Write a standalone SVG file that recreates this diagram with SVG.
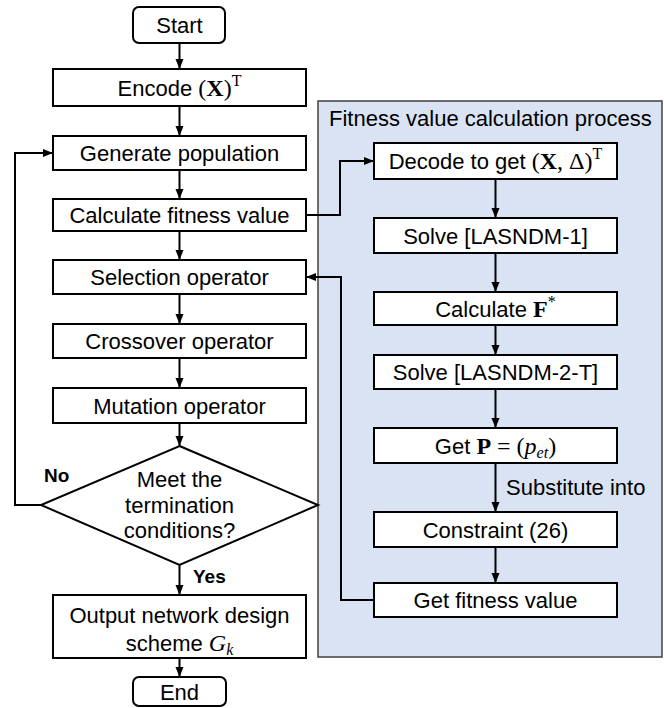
<svg xmlns="http://www.w3.org/2000/svg" width="664" height="708" viewBox="0 0 664 708">
<defs>
<marker id="arr" markerUnits="userSpaceOnUse" markerWidth="10" markerHeight="10" viewBox="0 0 10 10" refX="10" refY="5" orient="auto">
<path d="M0,1 L10,5 L0,9 Z" fill="#000"/>
</marker>
<style>
.box{fill:#fff;stroke:#000;stroke-width:2}
.t{font-family:"Liberation Sans",Arial,sans-serif;font-size:22px;fill:#000;text-anchor:middle}
.lbl{font-family:"Liberation Sans",Arial,sans-serif;font-size:22px;fill:#000}
.b{font-family:"Liberation Sans",Arial,sans-serif;font-size:19px;font-weight:bold;fill:#000}
.m{font-family:"Liberation Serif","Times New Roman",serif}
.mb{font-family:"Liberation Serif","Times New Roman",serif;font-weight:bold}
.mi{font-family:"Liberation Serif","Times New Roman",serif;font-style:italic}
.c{fill:none;stroke:#000;stroke-width:2}
</style>
</defs>
<g id="panel">
<rect x="318" y="101" width="344" height="556" fill="#dae3f3" stroke="#404040" stroke-width="1.5"/>
<text class="lbl" x="329" y="126">Fitness value calculation process</text>
</g>
<g id="connectors">
<line class="c" x1="179.5" y1="43" x2="179.5" y2="69" marker-end="url(#arr)"/>
<line class="c" x1="179.5" y1="106" x2="179.5" y2="136" marker-end="url(#arr)"/>
<line class="c" x1="179.5" y1="170" x2="179.5" y2="199" marker-end="url(#arr)"/>
<line class="c" x1="179.5" y1="231" x2="179.5" y2="260" marker-end="url(#arr)"/>
<line class="c" x1="179.5" y1="294" x2="179.5" y2="324" marker-end="url(#arr)"/>
<line class="c" x1="179.5" y1="358" x2="179.5" y2="388" marker-end="url(#arr)"/>
<line class="c" x1="179.5" y1="423" x2="179.5" y2="446" marker-end="url(#arr)"/>
<line class="c" x1="179.5" y1="565" x2="179.5" y2="595" marker-end="url(#arr)"/>
<line class="c" x1="179.5" y1="658" x2="179.5" y2="677" marker-end="url(#arr)"/>
<polyline class="c" points="41,505 15,505 15,153 53,153" marker-end="url(#arr)"/>
<polyline class="c" points="306,215 340,215 340,161 374,161" marker-end="url(#arr)"/>
<polyline class="c" points="374,600 341,600 341,277 306,277" marker-end="url(#arr)"/>
<line class="c" x1="495.5" y1="179" x2="495.5" y2="218" marker-end="url(#arr)"/>
<line class="c" x1="495.5" y1="253" x2="495.5" y2="292" marker-end="url(#arr)"/>
<line class="c" x1="495.5" y1="325" x2="495.5" y2="355" marker-end="url(#arr)"/>
<line class="c" x1="495.5" y1="389" x2="495.5" y2="428" marker-end="url(#arr)"/>
<line class="c" x1="495.5" y1="463" x2="495.5" y2="512" marker-end="url(#arr)"/>
<line class="c" x1="495.5" y1="547" x2="495.5" y2="583" marker-end="url(#arr)"/>
<text class="b" x="44" y="482">No</text>
<text class="b" x="193" y="583">Yes</text>
<text class="lbl" x="506" y="495">Substitute into</text>
</g>
<g id="start">
<rect class="box" x="133" y="7" width="92" height="36" rx="6"/>
<text class="t" x="179.5" y="33">Start</text>
</g>
<g id="encode">
<rect class="box" x="53" y="69" width="253" height="37"/>
<text class="t" x="179.5" y="95.5">Encode <tspan class="m" font-size="24">(</tspan><tspan class="mb" font-size="24">X</tspan><tspan class="m" font-size="24">)</tspan><tspan class="m" font-size="16" dy="-10">T</tspan></text>
</g>
<g id="generate">
<rect class="box" x="53" y="136" width="253" height="34"/>
<text class="t" x="179.5" y="161">Generate population</text>
</g>
<g id="calcfit">
<rect class="box" x="53" y="199" width="253" height="32"/>
<text class="t" x="179.5" y="223">Calculate fitness value</text>
</g>
<g id="selection">
<rect class="box" x="53" y="260" width="253" height="34"/>
<text class="t" x="179.5" y="285">Selection operator</text>
</g>
<g id="crossover">
<rect class="box" x="53" y="324" width="253" height="34"/>
<text class="t" x="179.5" y="349">Crossover operator</text>
</g>
<g id="mutation">
<rect class="box" x="53" y="388" width="253" height="35"/>
<text class="t" x="179.5" y="413.5">Mutation operator</text>
</g>
<g id="decision">
<polygon class="box" points="179.5,446 318,505 179.5,565 41,505"/>
<text class="t" x="179.5" y="487">Meet the</text>
<text class="t" x="179.5" y="513">termination</text>
<text class="t" x="179.5" y="538">conditions?</text>
</g>
<g id="output">
<rect class="box" x="53" y="595" width="253" height="63"/>
<text class="t" x="179.5" y="623">Output network design</text>
<text class="t" x="179.5" y="651">scheme <tspan class="mi" font-size="24">G</tspan><tspan class="mi" font-size="16" dy="4">k</tspan></text>
</g>
<g id="end">
<rect class="box" x="133" y="677" width="93" height="29" rx="6"/>
<text class="t" x="179.5" y="700">End</text>
</g>
<g id="decode">
<rect class="box" x="374" y="143" width="243" height="36"/>
<text class="t" x="495.5" y="169">Decode to get <tspan class="m" font-size="24">(</tspan><tspan class="mb" font-size="24">X</tspan><tspan class="m" font-size="24">, Δ)</tspan><tspan class="m" font-size="16" dy="-10">T</tspan></text>
</g>
<g id="solve1">
<rect class="box" x="374" y="218" width="243" height="35"/>
<text class="t" x="495.5" y="243.5">Solve [LASNDM-1]</text>
</g>
<g id="calcF">
<rect class="box" x="374" y="292" width="243" height="33"/>
<text class="t" x="495.5" y="316.5">Calculate <tspan class="mb" font-size="24">F</tspan><tspan class="m" font-size="16" dy="-10">*</tspan></text>
</g>
<g id="solve2">
<rect class="box" x="374" y="355" width="243" height="34"/>
<text class="t" x="495.5" y="380">Solve [LASNDM-2-T]</text>
</g>
<g id="getP">
<rect class="box" x="374" y="428" width="243" height="35"/>
<text class="t" x="495.5" y="453.5">Get <tspan class="mb" font-size="24">P</tspan><tspan class="m" font-size="24"> = (</tspan><tspan class="mi" font-size="24">p</tspan><tspan class="mi" font-size="16" dy="4">et</tspan><tspan class="m" font-size="24" dy="-4">)</tspan></text>
</g>
<g id="constraint">
<rect class="box" x="374" y="512" width="243" height="35"/>
<text class="t" x="495.5" y="537.5">Constraint (26)</text>
</g>
<g id="getfit">
<rect class="box" x="374" y="583" width="243" height="34"/>
<text class="t" x="495.5" y="608">Get fitness value</text>
</g>
</svg>
